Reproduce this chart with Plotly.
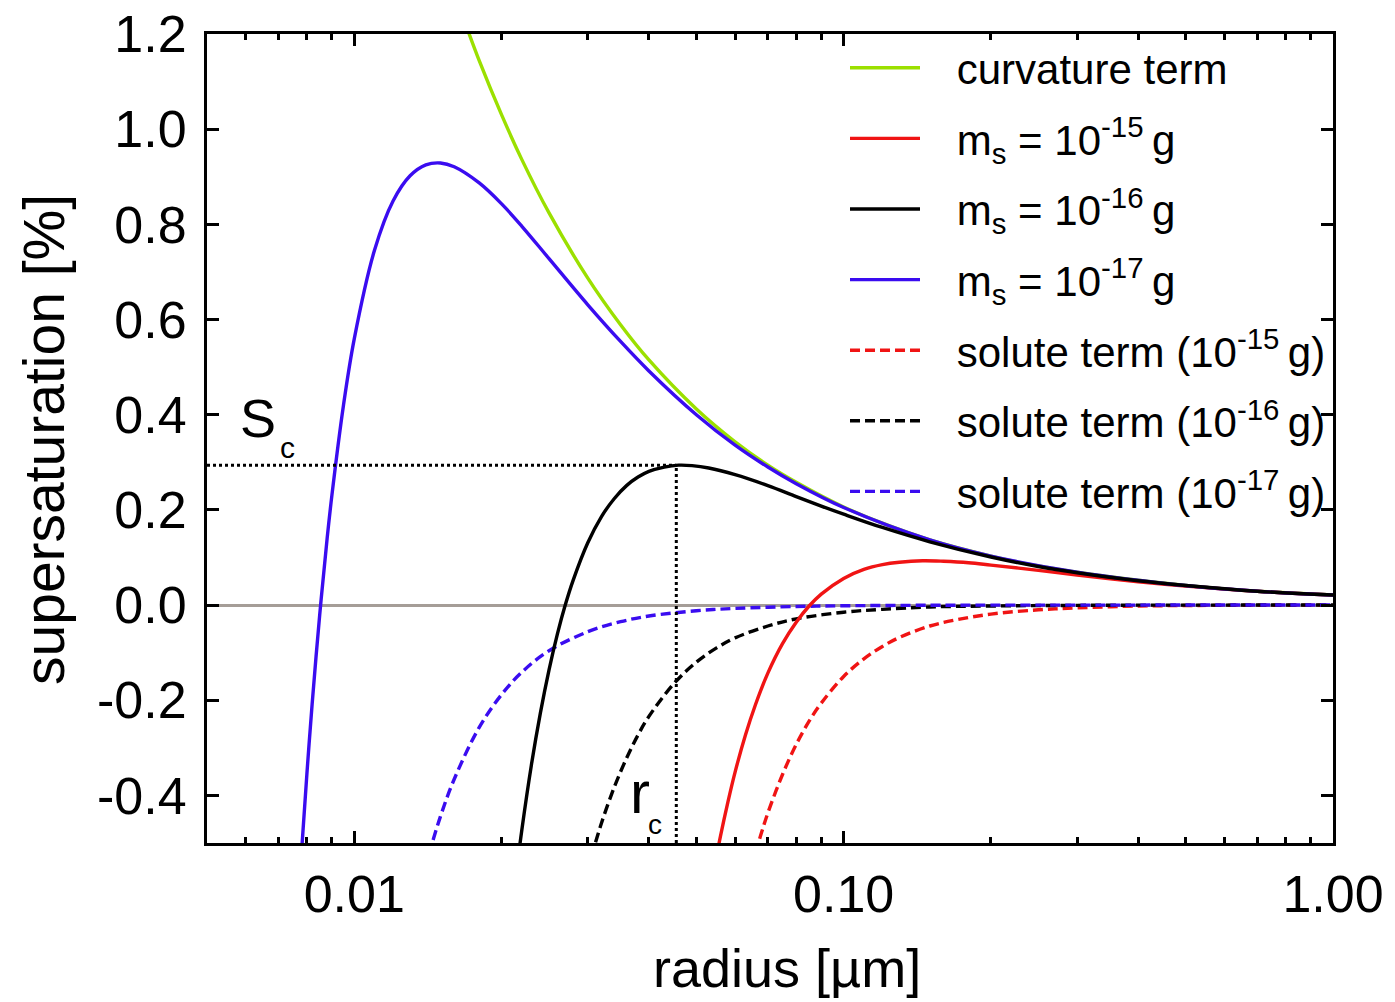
import plotly.graph_objects as go

# --- Köhler curves: supersaturation [%] versus droplet radius [µm] ---

# curvature (Kelvin) term
r_curv = [0.016, 0.017, 0.018, 0.020, 0.022, 0.025, 0.030, 0.035, 0.040, 0.050, 0.060, 0.070,
          0.080, 0.100, 0.120, 0.150, 0.200, 0.250, 0.300, 0.400, 0.500, 0.600, 0.700, 0.800, 1.000]
s_curv = [1.288, 1.212, 1.144, 1.030, 0.936, 0.824, 0.687, 0.589, 0.515, 0.412, 0.343, 0.294,
          0.258, 0.206, 0.172, 0.137, 0.103, 0.082, 0.069, 0.052, 0.041, 0.034, 0.029, 0.026, 0.021]

# full curve, m_s = 1e-15 g
r_15 = [0.054, 0.055, 0.056, 0.058, 0.060, 0.063, 0.066, 0.070, 0.075, 0.080, 0.085, 0.090, 0.100,
        0.110, 0.120, 0.130, 0.145, 0.160, 0.180, 0.200, 0.250, 0.300, 0.400, 0.500, 0.700, 1.000]
k_15 = [-0.571, -0.527, -0.486, -0.414, -0.351, -0.273, -0.210, -0.143, -0.081, -0.036, -0.002, 0.023, 0.056,
        0.075, 0.085, 0.090, 0.093, 0.092, 0.089, 0.084, 0.073, 0.063, 0.049, 0.040, 0.029, 0.021]

# full curve, m_s = 1e-16 g
r_16 = [0.0215, 0.022, 0.023, 0.024, 0.025, 0.026, 0.027, 0.028, 0.030, 0.032, 0.034, 0.036, 0.038,
        0.040, 0.043, 0.046, 0.049, 0.053, 0.060, 0.070, 0.080, 0.090, 0.100, 0.120, 0.150, 0.200,
        0.250, 0.300, 0.400, 0.500, 0.700, 1.000]
k_16 = [-0.551, -0.472, -0.337, -0.227, -0.136, -0.061, 0.001, 0.052, 0.131, 0.186, 0.224, 0.251, 0.269,
        0.281, 0.290, 0.294, 0.293, 0.288, 0.274, 0.251, 0.228, 0.208, 0.191, 0.163, 0.133, 0.101,
        0.081, 0.068, 0.051, 0.041, 0.029, 0.021]

# full curve, m_s = 1e-17 g
r_17 = [0.0078, 0.0080, 0.0082, 0.0085, 0.0088, 0.0090, 0.0095, 0.010, 0.011, 0.012, 0.013, 0.014,
        0.015, 0.016, 0.018, 0.020, 0.022, 0.025, 0.030, 0.035, 0.040, 0.050, 0.060, 0.070, 0.080,
        0.100, 0.150, 0.200, 0.300, 0.500, 0.700, 1.000]
k_17 = [-0.520, -0.355, -0.208, -0.019, 0.140, 0.231, 0.419, 0.560, 0.746, 0.849, 0.902, 0.925,
        0.929, 0.921, 0.887, 0.843, 0.796, 0.728, 0.631, 0.554, 0.492, 0.400, 0.336, 0.290, 0.255,
        0.205, 0.137, 0.103, 0.069, 0.041, 0.029, 0.021]

# solute (Raoult) terms
r_sol15 = [0.066, 0.068, 0.070, 0.075, 0.080, 0.085, 0.090, 0.100, 0.110, 0.120, 0.130, 0.150,
           0.170, 0.200, 0.250, 0.300, 0.400, 0.500, 0.700, 1.000]
sol_15 = [-0.522, -0.477, -0.437, -0.356, -0.293, -0.244, -0.206, -0.150, -0.113, -0.087, -0.068, -0.044,
          -0.031, -0.019, -0.010, -0.006, -0.002, -0.001, -0.0004, -0.0002]

r_sol16 = [0.0305, 0.032, 0.034, 0.036, 0.038, 0.040, 0.045, 0.050, 0.055, 0.060, 0.070, 0.080,
           0.100, 0.120, 0.150, 0.200, 0.300, 0.500, 1.000]
sol_16 = [-0.529, -0.458, -0.382, -0.322, -0.273, -0.234, -0.165, -0.120, -0.090, -0.069, -0.044, -0.029,
          -0.015, -0.009, -0.004, -0.002, -0.0006, -0.0001, 0.0]

r_sol17 = [0.0142, 0.015, 0.016, 0.018, 0.020, 0.022, 0.025, 0.030, 0.035, 0.040, 0.050, 0.060,
           0.080, 0.100, 0.150, 0.200, 0.300, 0.500, 1.000]
sol_17 = [-0.524, -0.444, -0.366, -0.257, -0.188, -0.141, -0.096, -0.056, -0.035, -0.023, -0.012, -0.007,
          -0.003, -0.0015, -0.0004, -0.0002, -0.0001, 0.0, 0.0]

# critical point of the 1e-16 g curve
r_crit = 0.0455
s_crit = 0.294

# axis ticks
x_tick_vals = [0.01, 0.1, 1.0]
x_tick_text = ["0.01", "0.10", "1.00"]
x_minor_vals = [0.005, 0.006, 0.007, 0.008, 0.009,
                0.02, 0.03, 0.04, 0.05, 0.06, 0.07, 0.08, 0.09,
                0.2, 0.3, 0.4, 0.5, 0.6, 0.7, 0.8, 0.9]
y_tick_vals = [-0.4, -0.2, 0.0, 0.2, 0.4, 0.6, 0.8, 1.0, 1.2]
y_tick_text = ["-0.4", "-0.2", "0.0", "0.2", "0.4", "0.6", "0.8", "1.0", "1.2"]

X_MIN, X_MAX = 0.005, 1.0
Y_MIN, Y_MAX = -0.5, 1.2

GREEN = "#9be000"
RED = "#f01414"
BLACK = "#000000"
BLUE = "#3a0cf0"
ZERO_GREY = "#a59d97"
FONT = "Liberation Sans, Arial, Helvetica, sans-serif"

W = 1395
H = 1002
M_L, M_R, M_T, M_B = 207, 62, 34, 159

LW = 3.4
DASH = "10px,5px"
GAP = "\u00a0\u00a0\u2009"   # spacing between legend sample and label
TH = "\u2009"                # thin space before the unit

fig = go.Figure()


def curve(x, y, name, color, dash, rank, show=True):
    fig.add_trace(go.Scatter(
        x=x, y=y, mode="lines", name=GAP + name,
        line=dict(color=color, width=LW, dash=dash, shape="spline", smoothing=1.0),
        legendrank=rank, legendgroup=f"g{rank}", showlegend=show,
        hoverinfo="skip",
    ))


curve(r_curv, s_curv, "curvature term", GREEN, "solid", 1)
curve(r_sol15, sol_15, f"solute term (10<sup>-15</sup>{TH}g)", RED, DASH, 5)
curve(r_sol16, sol_16, f"solute term (10<sup>-16</sup>{TH}g)", BLACK, DASH, 6)
curve(r_sol17, sol_17, f"solute term (10<sup>-17</sup>{TH}g)", BLUE, DASH, 7)
curve(r_15, k_15, f"m<sub>s</sub> = 10<sup>-15</sup>{TH}g", RED, "solid", 2)
curve(r_17, k_17, f"m<sub>s</sub> = 10<sup>-17</sup>{TH}g", BLUE, "solid", 4)
curve(r_16, k_16, f"m<sub>s</sub> = 10<sup>-16</sup>{TH}g", BLACK, "solid", 3)

# dotted guides to the critical supersaturation and radius
dot = dict(color=BLACK, width=3, dash="3px,3px")
fig.add_trace(go.Scatter(x=[X_MIN, r_crit], y=[s_crit, s_crit], mode="lines",
                         line=dot, showlegend=False, hoverinfo="skip"))
fig.add_trace(go.Scatter(x=[r_crit, r_crit], y=[Y_MIN, s_crit], mode="lines",
                         line=dot, showlegend=False, hoverinfo="skip"))

axis_common = dict(
    showline=True, linecolor="black", linewidth=3, mirror="ticks",
    ticks="inside", tickcolor="black", tickwidth=3, ticklen=12,
    showgrid=False, automargin=False,
    tickfont=dict(family=FONT, size=52, color="black"),
)

fig.update_xaxes(
    type="log", range=[-2.30103, 0.0],
    tickmode="array", tickvals=x_tick_vals, ticktext=x_tick_text,
    minor=dict(tickmode="array", tickvals=x_minor_vals, ticks="inside",
               ticklen=6, tickwidth=2.5, tickcolor="black"),
    ticklabelstandoff=4,
    zeroline=False,
    **axis_common,
)
fig.update_yaxes(
    range=[Y_MIN, Y_MAX],
    tickmode="array", tickvals=y_tick_vals, ticktext=y_tick_text,
    zeroline=True, zerolinecolor=ZERO_GREY, zerolinewidth=3,
    ticklabelstandoff=7,
    **axis_common,
)

PW = W - M_L - M_R
PH = H - M_T - M_B


def px(xp):
    return (xp - M_L) / PW


def py(yp):
    return (H - M_B - yp) / PH


annotations = [
    dict(text="radius [µm]", x=px(787), y=py(968), font=dict(size=54)),
    dict(text="supersaturation [%]", x=px(44), y=py(440), font=dict(size=57), textangle=-90),
    dict(text="S", x=px(258), y=py(418), font=dict(size=54)),
    dict(text="c", x=px(287), y=py(447), font=dict(size=30)),
    dict(text="r", x=px(640), y=py(792), font=dict(size=60)),
    dict(text="c", x=px(655), y=py(824), font=dict(size=28)),
]
for a in annotations:
    a.update(xref="paper", yref="paper", showarrow=False,
             xanchor="center", yanchor="middle")
    a["font"].update(family=FONT, color="black")

fig.update_layout(
    width=W, height=H,
    margin=dict(l=M_L, r=M_R, t=M_T, b=M_B),
    paper_bgcolor="white", plot_bgcolor="white",
    font=dict(family=FONT, color="black"),
    annotations=annotations,
    showlegend=True,
    legend=dict(
        x=px(845), y=1.0, xanchor="left", yanchor="top",
        bgcolor="rgba(0,0,0,0)", borderwidth=0,
        font=dict(family=FONT, size=42, color="black"),
        itemwidth=70, tracegroupgap=13,
    ),
)

fig.write_html("out.html")
